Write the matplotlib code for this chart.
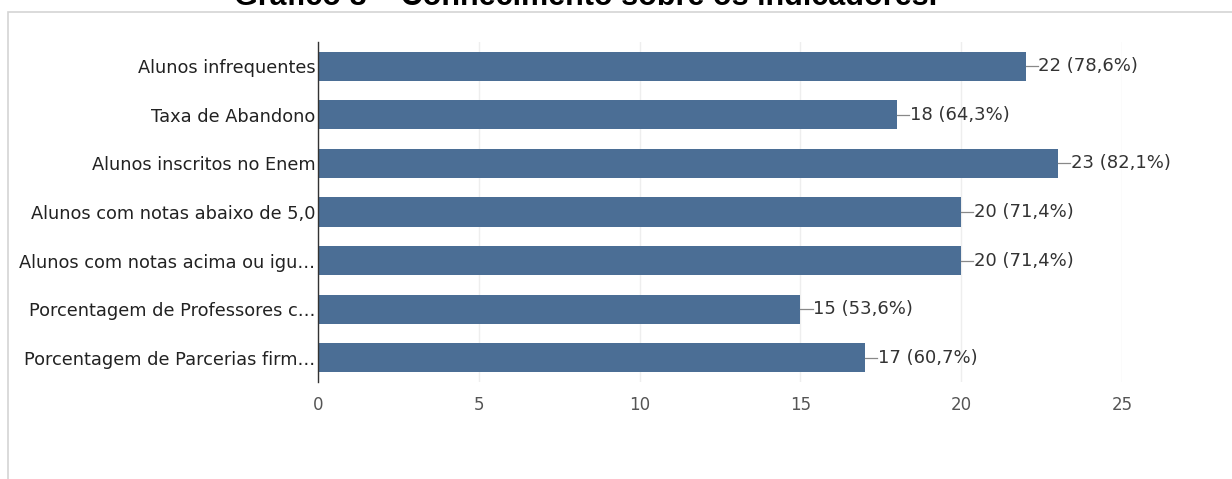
import matplotlib.pyplot as plt
from matplotlib.patches import Rectangle

# Data
categorias = [
    "Alunos infrequentes",
    "Taxa de Abandono",
    "Alunos inscritos no Enem",
    "Alunos com notas abaixo de 5,0",
    "Alunos com notas acima ou igu\u2026",
    "Porcentagem de Professores c\u2026",
    "Porcentagem de Parcerias firm\u2026",
]
respostas = [22, 18, 23, 20, 20, 15, 17]
percentuais = ["78,6%", "64,3%", "82,1%", "71,4%", "71,4%", "53,6%", "60,7%"]
xticks = [0, 5, 10, 15, 20, 25]

titulo = "Gráfico 8 \u2013 Conhecimento sobre os indicadores."

plt.rcParams['font.family'] = ['DejaVu Sans']

fig = plt.figure(figsize=(12.32, 4.79), dpi=100)

# light frame around the chart
fig.patches.append(Rectangle((8 / 1232, -0.05), 1.1, 1 - 12 / 479 + 0.05,
                             transform=fig.transFigure, fill=False,
                             edgecolor='#d4d4d4', linewidth=1.2))

# title (cut at the top in the original)
fig.text(0.475, 1 - 5 / 479, titulo, ha='center', va='baseline',
         fontsize=22, fontweight='bold', family=['Liberation Sans', 'DejaVu Sans'])

ax = fig.add_axes([318 / 1232, 1 - 382 / 479, (1122 - 318) / 1232, (382 - 42) / 479])

y = list(range(len(categorias)))
ax.barh(y, respostas, height=0.6, color='#4b6e95', zorder=3)

for yi, v, p in zip(y, respostas, percentuais):
    ax.plot([v, v + 0.38], [yi, yi], color='#888888', linewidth=0.9, zorder=3)
    ax.text(v + 0.4, yi, f"{v} ({p})", va='center', ha='left',
            fontsize=13, color='#333333')

ax.set_xlim(0, 25)
ax.set_ylim(len(categorias) - 0.5, -0.5)
ax.set_xticks(xticks)
ax.set_yticks(y)
ax.set_yticklabels(categorias, fontsize=12.8, color='#222222')
ax.tick_params(axis='x', length=0, pad=10, labelsize=12, labelcolor='#555555')
ax.tick_params(axis='y', length=0, pad=2)

ax.grid(axis='x', color='#eeeeee', linewidth=1, zorder=0)
for s in ['top', 'right', 'bottom']:
    ax.spines[s].set_visible(False)
ax.spines['left'].set_color('#333333')
ax.spines['left'].set_linewidth(1)
ax.spines['left'].set_zorder(4)

fig.savefig('out.png', dpi=100)
